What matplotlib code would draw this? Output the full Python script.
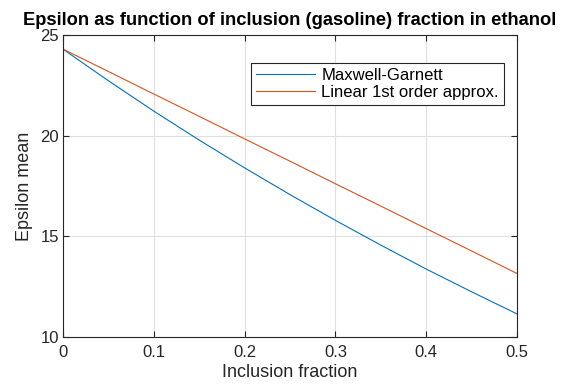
import matplotlib
matplotlib.use("Agg")
import matplotlib.pyplot as plt

plt.rcParams['font.family'] = ['Liberation Sans', 'DejaVu Sans']

# volume fraction of gasoline inclusions
fraction = [0.0, 0.05, 0.1, 0.15, 0.2, 0.25, 0.3, 0.35, 0.4, 0.45, 0.5]
# effective permittivity, Maxwell-Garnett mixing
eps_mg = [24.30, 22.73, 21.22, 19.78, 18.40, 17.07, 15.79, 14.56, 13.37, 12.24, 11.14]
# linear first order estimate
eps_lin = [24.30, 23.19, 22.07, 20.96, 19.84, 18.73, 17.61, 16.50, 15.38, 14.27, 13.15]

fig = plt.figure(figsize=(5.62, 3.85), dpi=100)
ax = fig.add_axes([0.112, 0.125, 0.808, 0.784])

ax.plot(fraction, eps_mg, color='#0072BD', linewidth=0.8, label='Maxwell-Garnett')
ax.plot(fraction, eps_lin, color='#D95319', linewidth=0.8, label='Linear 1st order approx.')

ax.set_xlim(0, 0.5)
ax.set_ylim(10, 25)
ax.set_xticks([0, 0.1, 0.2, 0.3, 0.4, 0.5])
ax.set_xticklabels(['0', '0.1', '0.2', '0.3', '0.4', '0.5'])
ax.set_yticks([10, 15, 20, 25])
ax.grid(True, color='#dfdfdf', linewidth=0.8)
ax.set_axisbelow(True)
ax.tick_params(direction='in', top=True, right=True, labelsize=12, colors='#262626',
               length=4, width=0.8)
ax.tick_params(axis='x', pad=6)
ax.tick_params(axis='y', pad=3)
for s in ax.spines.values():
    s.set_color('#262626')
    s.set_linewidth(0.8)

ax.set_xlabel('Inclusion fraction', fontsize=13, color='#262626', labelpad=3)
ax.set_ylabel('Epsilon mean', fontsize=13, color='#262626', labelpad=5)
ax.set_title('Epsilon as function of inclusion (gasoline) fraction in ethanol',
             fontsize=13.2, fontweight='bold', pad=7)

leg = ax.legend(loc='upper right', bbox_to_anchor=(0.989, 0.934), fontsize=12,
                fancybox=False, edgecolor='#262626', framealpha=1,
                handlelength=3.5, borderpad=0.3, labelspacing=0.1, handletextpad=0.4)
leg.get_frame().set_linewidth(0.8)

fig.savefig('out.png', dpi=100)
